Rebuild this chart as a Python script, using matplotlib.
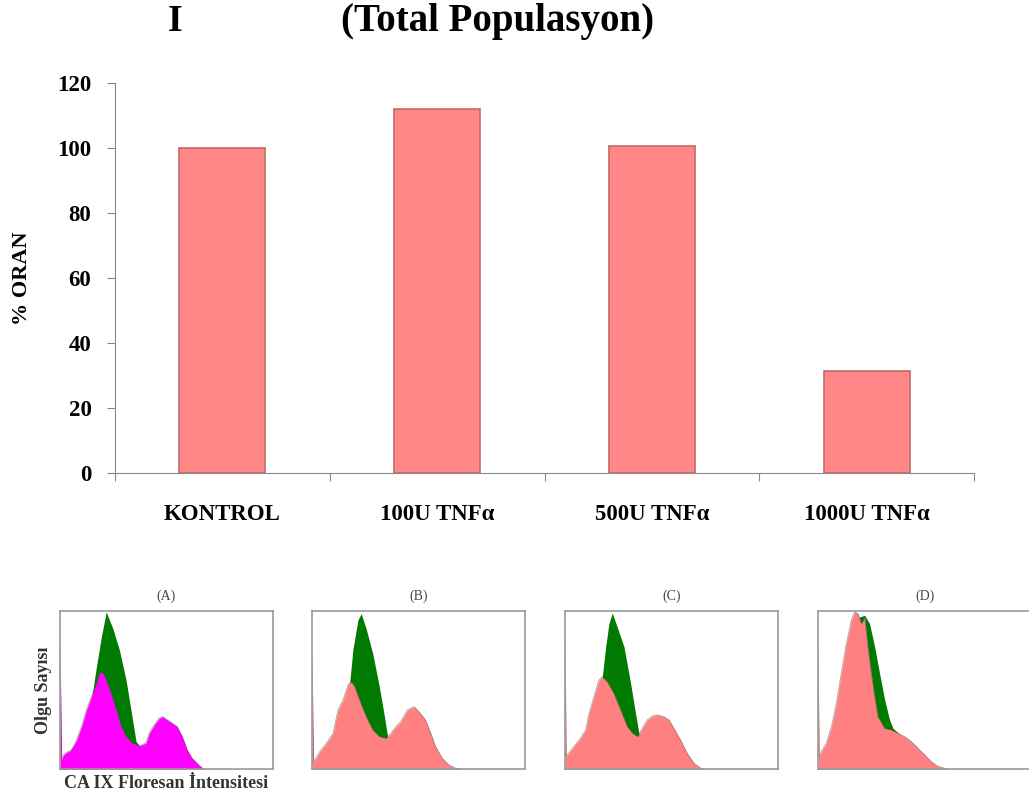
import matplotlib.pyplot as plt

plt.rcParams['font.family'] = ['Liberation Serif', 'DejaVu Serif']

# bar chart data
groups = ['KONTROL', '100U TNF\u03b1', '500U TNF\u03b1', '1000U TNF\u03b1']
oran = [100, 112, 100.5, 31.5]
y_ticks = [0, 20, 40, 60, 80, 100, 120]

# flow cytometry histograms (x: channel %, y: relative count %)
panel_titles = ['(A)', '(B)', '(C)', '(D)']

green_x = [
    [0, 3.1, 9.3, 14.0, 17.1, 19.4, 21.7, 24.8, 27.9, 31.0, 33.3, 35.7, 38.8, 43.4, 49.6, 55.8, 58.9],
    [0, 3.7, 9.9, 14.6, 17.7, 19.2, 21.6, 23.1, 25.4, 28.5, 31.6, 34.0, 35.5, 37.1, 42, 50, 58, 65, 70],
    [0, 4.2, 9.7, 13.6, 17.5, 19.1, 20.6, 22.2, 24.5, 27.7, 30.8, 33.1, 34.7, 35.5, 42, 50, 58, 65],
    [0, 5, 10, 15, 19, 21.9, 24.2, 26.6, 28.9, 31.3, 33.6, 35.2, 40, 47, 53, 57, 61],
]
green_y = [
    [0, 8, 20.6, 37.4, 64.7, 83.6, 99.4, 88.9, 75.2, 56.3, 37.4, 17.4, 12.2, 8, 3.8, 0.6, 0],
    [0, 10, 21, 42, 54.6, 75.6, 94.5, 98.3, 88.9, 73.1, 52.1, 33.2, 20.6, 18.5, 15, 10, 5, 1, 0],
    [0, 12, 22, 42, 58.4, 77.3, 92.0, 98.7, 89.9, 77.3, 54.2, 35.3, 22.7, 20.6, 15, 10, 4, 0],
    [0, 15, 45, 85, 96, 97.3, 92.0, 77.3, 60.5, 43.7, 31.1, 25.8, 20, 12, 4, 1, 0],
]

sample_x = [
    [0, 0.8, 1.6, 3.1, 5.4, 7.8, 10.1, 12.4, 14.7, 17.1, 18.6, 20.2, 21.7, 24.0, 26.4, 28.7, 31.0,
     34.1, 37.2, 40.3, 41.9, 44.2, 46.5, 48.1, 50.4, 52.7, 55.0, 57.4, 59.7, 62.0, 65.1, 67.4],
    [0, 0.8, 1.4, 3.7, 6.8, 9.9, 12.2, 14.6, 16.9, 18.4, 20.0, 22.3, 25.4, 28.5, 31.6, 34.7, 37.1,
     39.4, 41.7, 44.8, 47.9, 50.2, 53.3, 55.7, 58.0, 61.1, 64.2, 67.3, 70.4],
    [0, 0.6, 1.1, 4.2, 7.3, 9.7, 11.3, 13.6, 15.9, 17.5, 19.8, 22.9, 26.1, 29.2, 31.7, 34.1, 36.3,
     38.6, 41.1, 43.3, 46.4, 48.8, 51.1, 54.2, 57.3, 60.5, 63.6, 65.2],
    [0, 0.6, 1.6, 3.9, 6.3, 8.6, 10.9, 13.3, 15.6, 17.2, 18.8, 20.3, 21.9, 23.4, 25.0, 26.6, 28.1,
     31.3, 34.4, 37.5, 40.6, 43.8, 46.9, 50.0, 53.1, 56.3, 60.9],
]
sample_y = [
    [77, 6, 9.0, 10.5, 12.2, 18.5, 26.9, 37.4, 45.8, 54.2, 61.6, 60.5, 56.3, 47.9, 37.4, 26.9, 20.6,
     16.4, 14.7, 16.4, 22.7, 27.9, 32.1, 33.2, 31.1, 29.0, 26.9, 20.6, 12.2, 6.9, 2.7, 0],
    [70, 4, 5.9, 11.1, 16.4, 22.7, 37.4, 43.7, 53.2, 55.3, 52.1, 43.7, 33.2, 24.8, 20.6, 19.5, 22.7,
     26.9, 30.1, 37.4, 39.5, 36.3, 31.1, 22.7, 14.3, 6.9, 2.7, 0.6, 0],
    [80, 8, 9.0, 14.3, 19.5, 24.8, 35.3, 45.8, 56.3, 58.4, 55.3, 47.9, 37.4, 26.9, 22.7, 20.6, 25.8,
     31.1, 33.6, 34.2, 33.2, 31.1, 25.8, 18.5, 10.1, 3.8, 0.6, 0],
    [75, 8, 11.1, 16.4, 26.9, 41.6, 60.5, 79.4, 94.1, 99.4, 98.3, 92.0, 96.2, 77.3, 60.5, 45.8, 33.2,
     25.8, 24.8, 22.7, 20.6, 17.4, 13.2, 9.0, 4.8, 1.7, 0],
]
sample_colors = ['#ff00ff', '#ff8080', '#ff8080', '#ff8080']

fig = plt.figure(figsize=(10.29, 7.99), dpi=100)

# main bar chart
ax = fig.add_axes([0.1118, 0.408, 0.8348, 0.488])
ax.bar(range(len(groups)), oran, width=0.4, color='#ff8787', edgecolor='#c46a6a', linewidth=1.2)
ax.set_xlim(-0.5, len(groups) - 0.5)
ax.set_ylim(0, 120)
ax.set_yticks(y_ticks)
ax.set_yticklabels([str(t) for t in y_ticks], fontsize=16.5, fontweight='bold')
ax.set_xticks([i - 0.5 for i in range(len(groups) + 1)])
ax.set_xticklabels([])
ax.set_xticks(range(len(groups)), minor=True)
ax.set_xticklabels(groups, minor=True, fontsize=16.5, fontweight='bold')
ax.tick_params(axis='x', which='minor', length=0, pad=22)
ax.tick_params(axis='x', which='major', length=6, color='#888888')
ax.tick_params(axis='y', length=6, color='#888888', pad=11)
for side in ['top', 'right']:
    ax.spines[side].set_visible(False)
for side in ['left', 'bottom']:
    ax.spines[side].set_color('#888888')
ax.set_ylabel('% ORAN', fontsize=16, fontweight='bold', labelpad=18)

fig.text(0.170, 0.9725, 'I', fontsize=27, fontweight='bold', ha='center', va='center')
fig.text(0.484, 0.9725, '(Total Populasyon)', fontsize=28, fontweight='bold', ha='center', va='center')

# histogram insets
lefts = [60, 312, 565, 818]
for i in range(4):
    hx = fig.add_axes([lefts[i] / 1029, 1 - 769 / 799, 213 / 1029, 158 / 799])
    hx.fill_between(green_x[i], green_y[i], color='#007a00', linewidth=0)
    hx.fill_between(sample_x[i], sample_y[i], color=sample_colors[i], linewidth=0)
    hx.plot(sample_x[i], sample_y[i], color='#555555', linewidth=0.5, alpha=0.6)
    hx.set_xlim(0, 100)
    hx.set_ylim(0, 100)
    hx.set_xticks([])
    hx.set_yticks([])
    for s in hx.spines.values():
        s.set_color('#999999')
        s.set_linewidth(1.2)
    hx.set_title(panel_titles[i], fontsize=10, color='#444444', pad=8)
    if i == 0:
        hx.set_ylabel('Olgu Sayısı', fontsize=13, fontweight='bold', color='#333333', labelpad=6)
        hx.set_xlabel('CA IX Floresan İntensitesi', fontsize=13, fontweight='bold',
                      color='#333333', labelpad=4)

fig.savefig('out.png', dpi=100)
